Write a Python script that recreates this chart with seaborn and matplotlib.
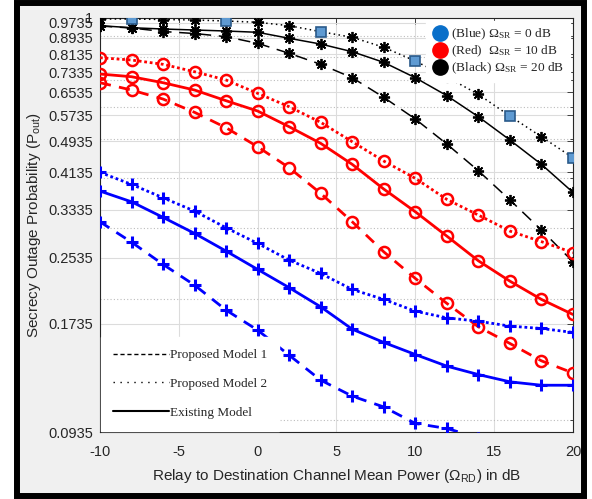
import matplotlib
matplotlib.use('Agg')
import matplotlib.pyplot as plt
from matplotlib.lines import Line2D
from matplotlib.patches import Rectangle
from matplotlib.ticker import FixedLocator, NullFormatter
import seaborn as sns

# Relay to destination channel mean power (dB)
omega_rd = [-10, -8, -6, -4, -2, 0, 2, 4, 6, 8, 10, 12, 14, 16, 18, 20]

# Omega_SR = 0 dB (blue)
blue_pm1 = [0.3114, 0.2772, 0.2440, 0.2167, 0.1878, 0.1675, 0.1451, 0.1258,
            0.1148, 0.1079, 0.0982, 0.0954, 0.0905, 0.0865, 0.0835, 0.0810]
blue_pm2 = [0.4133, 0.3858, 0.3573, 0.3311, 0.3009, 0.2752, 0.2501, 0.2317,
            0.2114, 0.1997, 0.1867, 0.1797, 0.1763, 0.1714, 0.1691, 0.1653]
blue_ex = [0.3713, 0.3492, 0.3194, 0.2914, 0.2633, 0.2371, 0.2136, 0.1914,
           0.1684, 0.1561, 0.1457, 0.1363, 0.1299, 0.1246, 0.1222, 0.1222]

# Omega_SR = 10 dB (red)
red_pm1 = [0.6904, 0.6621, 0.6288, 0.5827, 0.5335, 0.4785, 0.4243, 0.3664,
           0.3114, 0.2622, 0.2252, 0.1952, 0.1707, 0.1552, 0.1405, 0.1311]
red_pm2 = [0.7966, 0.7862, 0.7671, 0.7352, 0.7011, 0.6497, 0.6017, 0.5503,
           0.4924, 0.4409, 0.3993, 0.3540, 0.3236, 0.2953, 0.2780, 0.2610]
red_ex = [0.7256, 0.7145, 0.6904, 0.6621, 0.6227, 0.5871, 0.5366, 0.4879,
          0.4326, 0.3756, 0.3298, 0.2869, 0.2491, 0.2217, 0.1997, 0.1832]

# Omega_SR = 20 dB (black)
black_pm1 = [0.9552, 0.9443, 0.9256, 0.9150, 0.8985, 0.8650, 0.8169, 0.7671,
             0.7103, 0.6350, 0.5608, 0.4859, 0.4170, 0.3529, 0.2970, 0.2477]
black_pm2 = [0.9943, 0.9943, 0.9914, 0.9886, 0.9830, 0.9757, 0.9569, 0.9246,
             0.8954, 0.8455, 0.7816, 0.7134, 0.6459, 0.5705, 0.5066, 0.4494]
black_ex = [0.9569, 0.9459, 0.9389, 0.9336, 0.9282, 0.9214, 0.8902, 0.8614,
            0.8245, 0.7757, 0.7103, 0.6411, 0.5682, 0.4973, 0.4326, 0.3685]

# square markers sitting on the black dotted curve
square_x = [-8, -2, 4, 10, 16, 20]
square_y = [0.9943, 0.9830, 0.9246, 0.7816, 0.5705, 0.4494]

ytick_vals = [0.0935, 0.1735, 0.2535, 0.3335, 0.4135, 0.4935, 0.5735,
              0.6535, 0.7335, 0.8135, 0.8935, 0.9735, 1]
ytick_labels = ['0.0935', '0.1735', '0.2535', '0.3335', '0.4135', '0.4935',
                '0.5735', '0.6535', '0.7335', '0.8135', '0.8935', '0.9735', '1']
xtick_vals = [-10, -5, 0, 5, 10, 15, 20]

sns.set_style('white')
plt.rcParams['font.family'] = ['Liberation Sans', 'DejaVu Sans']
plt.rcParams['font.size'] = 10.5
serif = ['Liberation Serif', 'DejaVu Serif']
txt = '#262626'

fig = plt.figure(figsize=(5.92, 4.99), dpi=100)
fig.patch.set_facecolor('white')
fig.patches.append(Rectangle((16.5 / 592, 3.5 / 499), 567.5 / 592, 492.5 / 499,
                             transform=fig.transFigure, facecolor='#f0f0f0',
                             edgecolor='black', linewidth=4.3, zorder=-10))

ax = fig.add_axes([100 / 592, 67 / 499, 473 / 592, 414 / 499])
ax.set_facecolor('white')
ax.set_yscale('log')

idx_stars = [i for i, x in enumerate(omega_rd) if x not in square_x]

series = [
    (black_pm2, 'black', (0, (1, 2.2)), 1.1, dict(marker=(8, 2, 0), ms=8, mew=1.3, markevery=idx_stars)),
    (black_ex, 'black', '-', 1.1, dict(marker=(8, 2, 0), ms=8, mew=1.3)),
    (black_pm1, 'black', (0, (8, 5)), 1.1, dict(marker=(8, 2, 0), ms=8, mew=1.3)),
    (red_pm2, '#ff0000', (0, (1, 1)), 2.0, dict(marker='o', ms=8, mew=1.8, mfc='none')),
    (red_ex, '#ff0000', '-', 2.0, dict(marker='o', ms=8, mew=1.8, mfc='none')),
    (red_pm1, '#ff0000', (0, (4, 3)), 2.0, dict(marker='o', ms=8, mew=1.8, mfc='none')),
    (blue_pm2, '#0000ff', (0, (1, 1)), 2.0, dict(marker='+', ms=8, mew=2.2)),
    (blue_ex, '#0000ff', '-', 2.0, dict(marker='+', ms=8, mew=2.2)),
    (blue_pm1, '#0000ff', (0, (4, 3)), 2.0, dict(marker='+', ms=8, mew=2.2)),
]
for vals, col, ls, lw, mk in series:
    sns.lineplot(x=omega_rd, y=vals, ax=ax, color=col, linestyle=ls, lw=lw,
                 mec=col, legend=False, zorder=3, **mk)

ax.plot(square_x, square_y, ls='none', marker='s', ms=6.5, mfc='#5e9ad2',
        mec='#2a5a8a', mew=1.2, zorder=4)

ax.set_xlim(-10, 20)
ax.set_ylim(0.0935, 1.0)
ax.set_xticks(xtick_vals)
ax.set_xticklabels([str(v) for v in xtick_vals])
ax.yaxis.set_major_locator(FixedLocator(ytick_vals))
ax.set_yticklabels(ytick_labels)
ax.yaxis.set_minor_locator(FixedLocator([0.1, 0.2, 0.3, 0.4, 0.5, 0.6, 0.7, 0.8, 0.9]))
ax.yaxis.set_minor_formatter(NullFormatter())

ax.grid(True, which='major', color='#dcdcdc', lw=0.8, ls='-', zorder=0)
ax.grid(True, which='minor', axis='y', color='#bdbdbd', lw=0.8, ls=(0, (1, 2)), zorder=0)
ax.set_axisbelow(True)

ax.tick_params(which='both', direction='in', top=True, right=True,
               colors=txt, labelcolor=txt, width=0.6)
ax.tick_params(which='major', length=4, pad=5, labelsize=10.5)
ax.tick_params(axis='x', which='major', pad=9)
ax.tick_params(which='minor', length=2.5)
for s in ax.spines.values():
    s.set_color(txt)
    s.set_linewidth(0.8)

ax.set_xlabel(r'Relay to Destination Channel Mean Power ($\mathregular{Ω_{RD}}$) in dB',
              color=txt, fontsize=11, labelpad=6)
ax.set_ylabel(r'Secrecy Outage Probability ($\mathregular{P_{out}}$)',
              color=txt, fontsize=11, labelpad=4)

# colour legend (top right)
color_handles = [
    Line2D([], [], ls='none', marker='o', ms=11, color='#0a6fc9'),
    Line2D([], [], ls='none', marker='o', ms=11, color='#ff0000'),
    Line2D([], [], ls='none', marker='o', ms=11, color='black'),
]
color_labels = [r'(Blue) $\mathregular{Ω_{SR}}$ = 0 dB',
                r'(Red)  $\mathregular{Ω_{SR}}$ = 10 dB',
                r'(Black) $\mathregular{Ω_{SR}}$ = 20 dB']
leg1 = ax.legend(color_handles, color_labels, loc='upper right',
                 bbox_to_anchor=(1, 1), borderaxespad=0.2, frameon=True,
                 fancybox=False, framealpha=1, edgecolor='white',
                 handlelength=1.2, handletextpad=0.25, labelspacing=0.12,
                 borderpad=0.45, prop={'family': serif, 'size': 9.6})
ax.add_artist(leg1)

# line style legend (bottom left)
style_handles = [
    Line2D([], [], color='black', lw=1.0, ls=(0, (3, 2))),
    Line2D([], [], color='black', lw=1.0, ls=(0, (1, 4))),
    Line2D([], [], color='black', lw=1.5, ls='-'),
]
style_labels = ['Proposed Model 1', 'Proposed Model 2', 'Existing Model']
ax.legend(style_handles, style_labels, loc='lower left', bbox_to_anchor=(0, 0),
          borderaxespad=0.1, frameon=True, fancybox=False, framealpha=1,
          edgecolor='white', handlelength=4.2, handletextpad=0.1,
          labelspacing=1.25, borderpad=0.9,
          prop={'family': serif, 'size': 9.5})

fig.savefig('out.png', dpi=100)
